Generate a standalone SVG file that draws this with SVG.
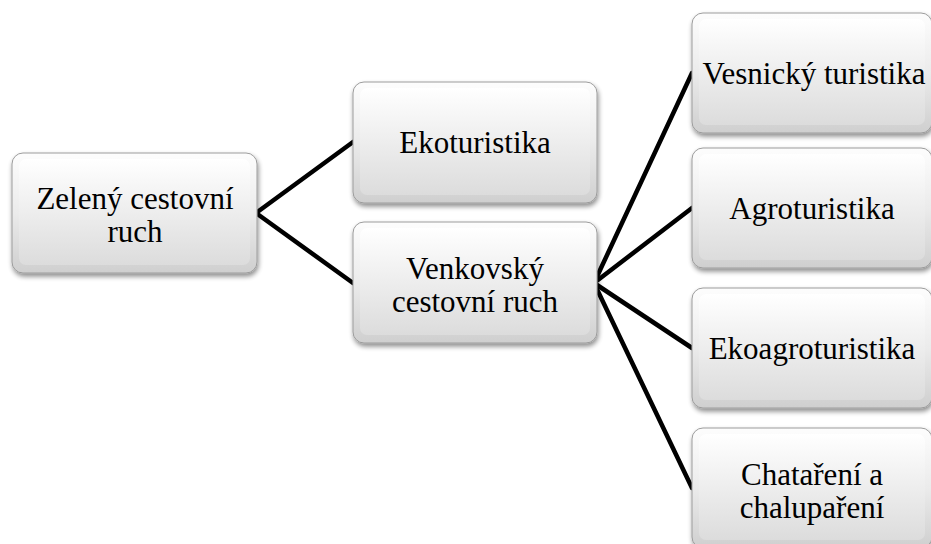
<svg xmlns="http://www.w3.org/2000/svg" width="931" height="544" viewBox="0 0 931 544">
<style>
.box{fill:url(#body);stroke:#9c9c9c;stroke-width:1;filter:url(#sh)}
.bev{fill:url(#inner);stroke:none}
.lbl{font-family:'Liberation Serif',serif;font-size:31px;fill:#000;text-anchor:middle}
.con{stroke:#000;stroke-width:4.5;fill:none;stroke-linecap:round}
</style>
<defs>
<linearGradient id="body" x1="0" y1="0" x2="0" y2="1">
<stop offset="0" stop-color="#fdfdfd"/>
<stop offset="0.5" stop-color="#ebebeb"/>
<stop offset="1" stop-color="#cfcfcf"/>
</linearGradient>
<linearGradient id="inner" x1="0" y1="0" x2="0" y2="1">
<stop offset="0" stop-color="#ffffff"/>
<stop offset="1" stop-color="#dcdcdc"/>
</linearGradient>
<filter id="sh" x="-10%" y="-10%" width="120%" height="130%">
<feGaussianBlur in="SourceAlpha" stdDeviation="2.5"/>
<feOffset dx="1" dy="3" result="b"/>
<feComponentTransfer><feFuncA type="linear" slope="0.45"/></feComponentTransfer>
<feMerge><feMergeNode/><feMergeNode in="SourceGraphic"/></feMerge>
</filter>
</defs>
<rect width="931" height="544" fill="#fff"/>
<g id="connectors">
<line class="con" x1="256" y1="213" x2="353" y2="142"/>
<line class="con" x1="256" y1="213" x2="353" y2="283"/>
<line class="con" x1="594" y1="283" x2="692" y2="73"/>
<line class="con" x1="594" y1="283" x2="692" y2="208"/>
<line class="con" x1="594" y1="283" x2="692" y2="348"/>
<line class="con" x1="594" y1="283" x2="692" y2="488"/>
</g>
<g id="n1">
<rect class="box" x="12" y="153" width="245" height="120" rx="11"/>
<rect class="bev" x="19" y="159" width="231" height="106" rx="7"/>
<text class="lbl" x="135" y="209">Zelený cestovní</text>
<text class="lbl" x="135" y="242">ruch</text>
</g>
<g id="n2">
<rect class="box" x="353" y="82" width="244" height="121" rx="11"/>
<rect class="bev" x="360" y="88" width="230" height="107" rx="7"/>
<text class="lbl" x="475" y="153">Ekoturistika</text>
</g>
<g id="n3">
<rect class="box" x="353" y="222" width="244" height="121" rx="11"/>
<rect class="bev" x="360" y="228" width="230" height="107" rx="7"/>
<text class="lbl" x="475" y="279">Venkovský</text>
<text class="lbl" x="475" y="312">cestovní ruch</text>
</g>
<g id="n4">
<rect class="box" x="692" y="13" width="240" height="120" rx="11"/>
<rect class="bev" x="699" y="19" width="226" height="106" rx="7"/>
<text class="lbl" x="814" y="84">Vesnický turistika</text>
</g>
<g id="n5">
<rect class="box" x="692" y="148" width="240" height="120" rx="11"/>
<rect class="bev" x="699" y="154" width="226" height="106" rx="7"/>
<text class="lbl" x="812" y="219">Agroturistika</text>
</g>
<g id="n6">
<rect class="box" x="692" y="288" width="240" height="120" rx="11"/>
<rect class="bev" x="699" y="294" width="226" height="106" rx="7"/>
<text class="lbl" x="812" y="359">Ekoagroturistika</text>
</g>
<g id="n7">
<rect class="box" x="692" y="428" width="240" height="120" rx="11"/>
<rect class="bev" x="699" y="434" width="226" height="106" rx="7"/>
<text class="lbl" x="812" y="485">Chataření a</text>
<text class="lbl" x="812" y="518">chalupaření</text>
</g>
</svg>
